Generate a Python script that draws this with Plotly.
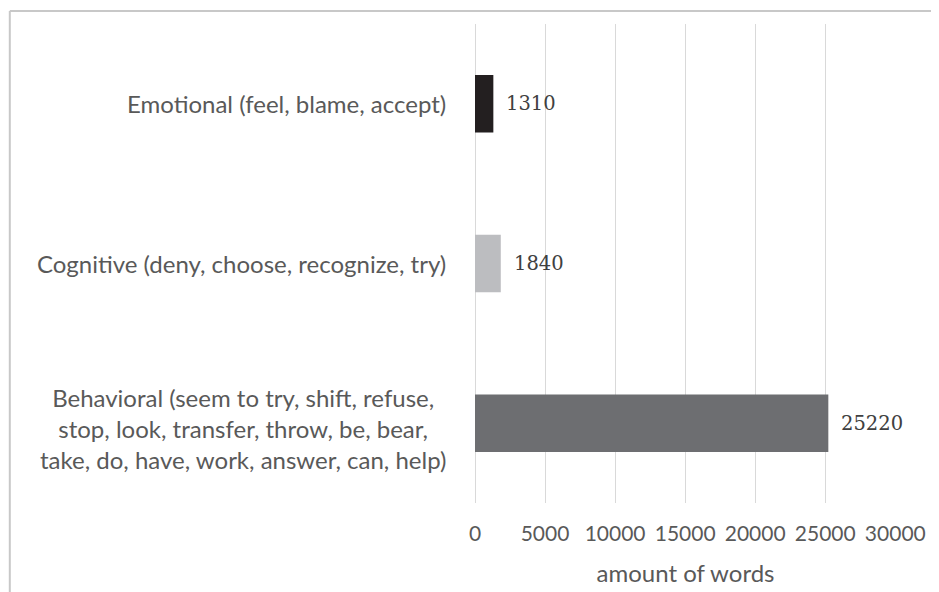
import plotly.graph_objects as go

# categories from bottom to top as drawn
categories = [
    "Behavioral (seem to try, shift, refuse,<br>stop, look, transfer, throw, be, bear,<br>take, do, have, work, answer, can, help)",
    "Cognitive (deny, choose, recognize, try)",
    "Emotional (feel, blame, accept)",
]
word_counts = [25220, 1840, 1310]
bar_colors = ["#6d6e71", "#bcbdc0", "#231f20"]
x_ticks = [0, 5000, 10000, 15000, 20000, 25000, 30000]

fig = go.Figure(go.Bar(
    x=word_counts,
    y=categories,
    orientation="h",
    marker=dict(color=bar_colors, line=dict(width=0)),
    width=0.36,
    hoverinfo="skip",
))

# value labels to the right of each bar
for cat, val in zip(categories, word_counts):
    fig.add_annotation(
        x=val, y=cat, xref="x", yref="y",
        text=str(val), showarrow=False,
        xanchor="left", xshift=11,
        font=dict(family="DejaVu Serif, Liberation Serif, serif", size=19.5, color="#404040"),
    )

# category labels, centred lines like the original
for cat in categories:
    fig.add_annotation(
        x=0, y=cat, xref="paper", yref="y",
        text=cat, showarrow=False,
        xanchor="right", xshift=-27, align="center",
        yshift=-5 if "<br>" in cat else 0,
        font=dict(family="Lato, sans-serif", size=24, color="#595959"),
    )

# faint outer frame (top and left edge visible)
fig.add_shape(type="line", xref="paper", yref="paper",
              x0=-1.105, x1=1.2, y0=1.027, y1=1.027,
              line=dict(color="#c8c8c8", width=2))
fig.add_shape(type="line", xref="paper", yref="paper",
              x0=-1.105, x1=-1.105, y0=1.027, y1=-0.2,
              line=dict(color="#c8c8c8", width=2))

fig.update_layout(
    width=931, height=584,
    margin=dict(l=467, r=43, t=16, b=89),
    paper_bgcolor="white", plot_bgcolor="white",
    showlegend=False,
    xaxis=dict(
        range=[0, 30050], tickvals=x_ticks,
        ticktext=[str(v) for v in x_ticks],
        showgrid=True, gridcolor="#d9d9d9", gridwidth=1,
        zeroline=True, zerolinecolor="#d9d9d9", zerolinewidth=1,
        showline=False, layer="below traces", automargin=False,
        ticks="", ticklen=0, ticklabelstandoff=16,
        tickfont=dict(family="Lato, sans-serif", size=21, color="#595959"),
        title=dict(text="amount of words", standoff=21,
                   font=dict(family="Lato, sans-serif", size=24, color="#595959")),
    ),
    yaxis=dict(
        showticklabels=False, showgrid=False, zeroline=False,
        showline=False, ticks="", automargin=False,
    ),
)

fig.write_html("out.html")
